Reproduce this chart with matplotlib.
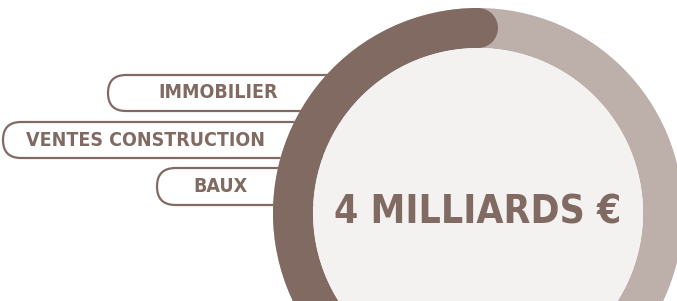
import matplotlib.pyplot as plt
from matplotlib.patches import Wedge, Circle, FancyBboxPatch
import numpy as np

# data
labels = ["IMMOBILIER", "VENTES CONSTRUCTION", "BAUX"]
total_text = "4 MILLIARDS €"
shares = [55, 45]   # dark arc / light arc (percent of ring)

dark = "#806a62"
light = "#bdb0aa"
inner = "#f4f2f0"

W, H = 677, 301
fig = plt.figure(figsize=(W / 100, H / 100), dpi=100)
ax = fig.add_axes([0, 0, 1, 1])
ax.set_xlim(0, W)
ax.set_ylim(0, H)
ax.set_aspect("equal")
ax.axis("off")

font = ["DejaVu Sans"]

# pills (image coords: left, top, bottom, text x)
pills = [(108, 75, 111, 218), (3, 122, 158, 145), (157, 168, 205, 220)]
for lab, (left, top, bot, tx) in zip(labels, pills):
    h = bot - top
    p = FancyBboxPatch((left, H - bot), 480 - left, h,
                       boxstyle="round,pad=0,rounding_size=%f" % (h / 2),
                       fc="white", ec=dark, lw=1.6, zorder=1)
    ax.add_patch(p)
    ax.text(tx, H - (top + bot) / 2, lab, ha="center", va="center",
            fontsize=14, fontweight="heavy", fontstretch="condensed",
            color=dark, family=font, zorder=2)

# ring
cx, cy = 478, H - 213
R, width = 205, 40
ax.add_patch(Wedge((cx, cy), R, 0, 360, width=width, fc=light, ec="none", zorder=3))
start = 90
end = start + shares[0] / sum(shares) * 360
ax.add_patch(Wedge((cx, cy), R, start, end, width=width, fc=dark, ec="none", zorder=4))
# rounded cap at the top end of the dark arc
rm = R - width / 2
ax.add_patch(Circle((cx + rm * np.cos(np.radians(start)), cy + rm * np.sin(np.radians(start))),
                    width / 2, fc=dark, ec="none", zorder=4))
ax.add_patch(Circle((cx, cy), R - width, fc=inner, ec="none", zorder=5))

ax.text(cx, cy, total_text, ha="center", va="center", fontsize=28,
        fontweight="heavy", fontstretch="condensed", color=dark, family=font, zorder=6)

fig.savefig("out.png", dpi=100)
